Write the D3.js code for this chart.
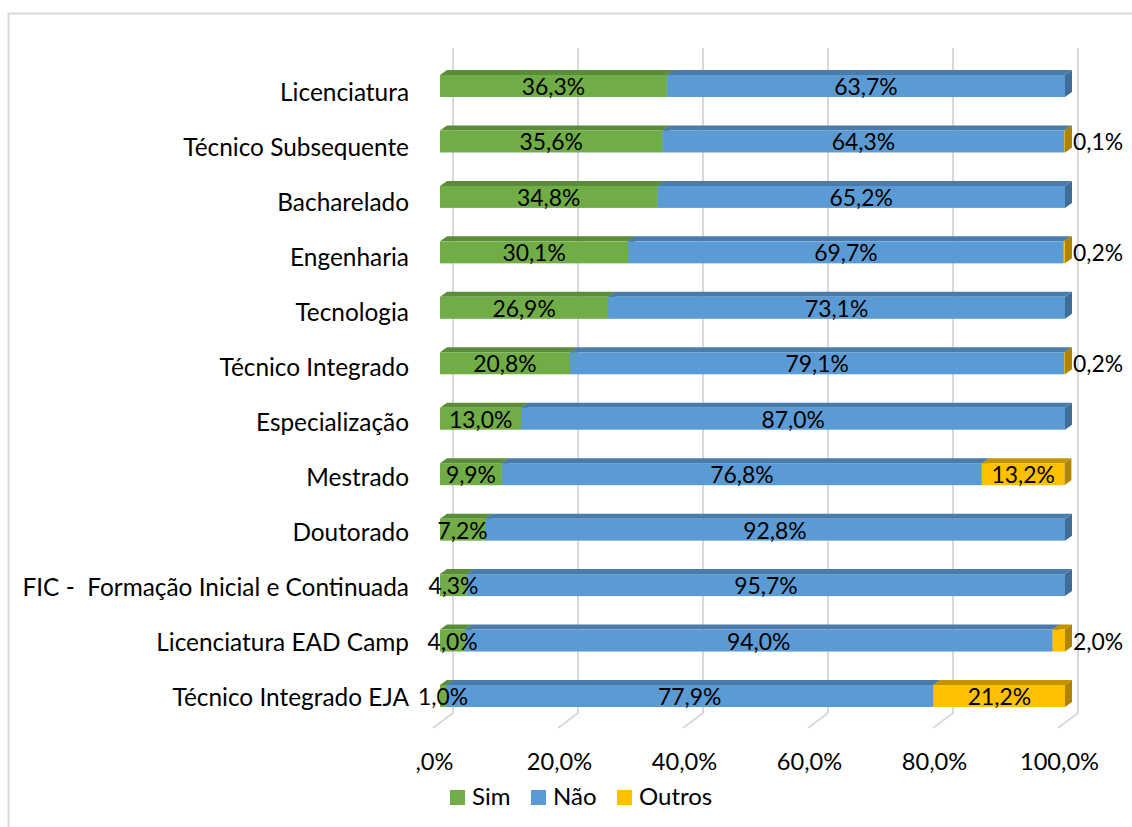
<!DOCTYPE html>
<html>
<head>
<meta charset="utf-8">
<script src="https://cdn.jsdelivr.net/npm/d3@7"></script>
<style>
  body { margin: 0; background: #fff; }
  svg text { font-family: Lato, "Open Sans", sans-serif; fill: #000; white-space: pre; }
</style>
</head>
<body>
<svg id="chart" width="1132" height="827"></svg>
<script>
var categories = ["Licenciatura", "Técnico Subsequente", "Bacharelado", "Engenharia", "Tecnologia",
    "Técnico Integrado", "Especialização", "Mestrado", "Doutorado",
    "FIC -  Formação Inicial e Continuada", "Licenciatura EAD Camp", "Técnico Integrado EJA"]
var sim    = [36.3, 35.6, 34.8, 30.1, 26.9, 20.8, 13.0, 9.9, 7.2, 4.3, 4.0, 1.0]
var nao    = [63.7, 64.3, 65.2, 69.7, 73.1, 79.1, 87.0, 76.8, 92.8, 95.7, 94.0, 77.9]
var outros = [0, 0.1, 0, 0.2, 0, 0.2, 0, 13.2, 0, 0, 2.0, 21.2]
var seriesNames = ["Sim", "Não", "Outros"]
var ticks = [0, 20, 40, 60, 80, 100]

var front = ["#70ad47", "#5b9bd5", "#ffc000"]
var top_ = ["#5a8c3a", "#4a7cab", "#c49300"]
var side = ["#4f7a33", "#3f6d98", "#b08400"]

var svg = d3.select("#chart")

// outer border (runs off the right and bottom of the picture)
svg.append("rect")
    .attr("x", 8.5).attr("y", 13.5)
    .attr("width", 1200).attr("height", 900)
    .attr("fill", "none").attr("stroke", "#d9d9d9").attr("stroke-width", 2)

var x = d3.scaleLinear().domain([0, 100]).range([440, 1065])
var y = d3.scalePoint().domain(categories).range([86, 696])
var yLab = d3.scalePoint().domain(categories).range([92, 697])
var barH = 22
var bdx = 7, bdy = 5          // bar depth
var wdx = 13, fdx = -20, fdy = 15   // back wall offset, floor diagonal

// gridlines on back wall + floor
var grid = svg.append("g")
ticks.forEach(function (t) {
    var bx = x(t) + wdx
    grid.append("path")
        .attr("d", "M" + bx + ",48 L" + bx + ",713 L" + (bx + fdx) + "," + (713 + fdy))
        .attr("fill", "none").attr("stroke", "#d9d9d9").attr("stroke-width", 2)
})

function fmt(v) {
    return v.toFixed(1).replace(".", ",") + "%"
}

var rows = categories.map(function (c, i) {
    return { cat: c, vals: [sim[i], nao[i], outros[i]] }
})

var bars = svg.append("g")
rows.forEach(function (r) {
    var cy = y(r.cat), yt = cy - barH / 2, yb = cy + barH / 2
    var acc = 0
    r.vals.forEach(function (v, k) {
        if (v <= 0) return
        var x0 = x(acc), x1 = x(Math.min(acc + v, 100))
        acc += v
        var g = bars.append("g")
        g.append("path")
            .attr("d", "M" + x1 + "," + yt + " L" + (x1 + bdx) + "," + (yt - bdy) + " L" + (x1 + bdx) + "," + (yb - bdy) + " L" + x1 + "," + yb + "Z")
            .attr("fill", side[k])
        g.append("path")
            .attr("d", "M" + x0 + "," + yt + " L" + (x0 + bdx) + "," + (yt - bdy) + " L" + (x1 + bdx) + "," + (yt - bdy) + " L" + x1 + "," + yt + "Z")
            .attr("fill", top_[k])
        g.append("rect")
            .attr("x", x0).attr("y", yt)
            .attr("width", x1 - x0).attr("height", barH)
            .attr("fill", front[k])
    })
})

// data labels
var labels = svg.append("g").style("font-size", "22.9px")
rows.forEach(function (r) {
    var cy = y(r.cat)
    var acc = 0
    r.vals.forEach(function (v, k) {
        if (v <= 0) { return }
        var mid = x(acc + v / 2)
        acc += v
        var t = labels.append("text").attr("y", cy + 9).text(fmt(v))
        if (k == 2 && v < 5) {
            t.attr("x", x(100) + 8).attr("text-anchor", "start")
        } else {
            t.attr("x", mid).attr("text-anchor", "middle")
        }
    })
})

// category labels
svg.append("g").style("font-size", "24.4px")
    .selectAll("text").data(categories).enter().append("text")
    .attr("x", 409).attr("y", d => yLab(d) + 8.5)
    .attr("text-anchor", "end")
    .text(d => d)

// x axis labels
svg.append("g").style("font-size", "23.6px")
    .selectAll("text").data(ticks).enter().append("text")
    .attr("x", d => x(d) - 5.5).attr("y", 770)
    .attr("text-anchor", "middle")
    .text(d => d == 0 ? ",0%" : d.toFixed(1).replace(".", ",") + "%")

// legend
var legX = [450, 531, 617]
var leg = svg.append("g").style("font-size", "24px")
seriesNames.forEach(function (n, k) {
    leg.append("rect").attr("x", legX[k]).attr("y", 790).attr("width", 15).attr("height", 15).attr("fill", front[k])
    leg.append("text").attr("x", legX[k] + 22).attr("y", 805).text(n)
})
</script>
</body>
</html>
